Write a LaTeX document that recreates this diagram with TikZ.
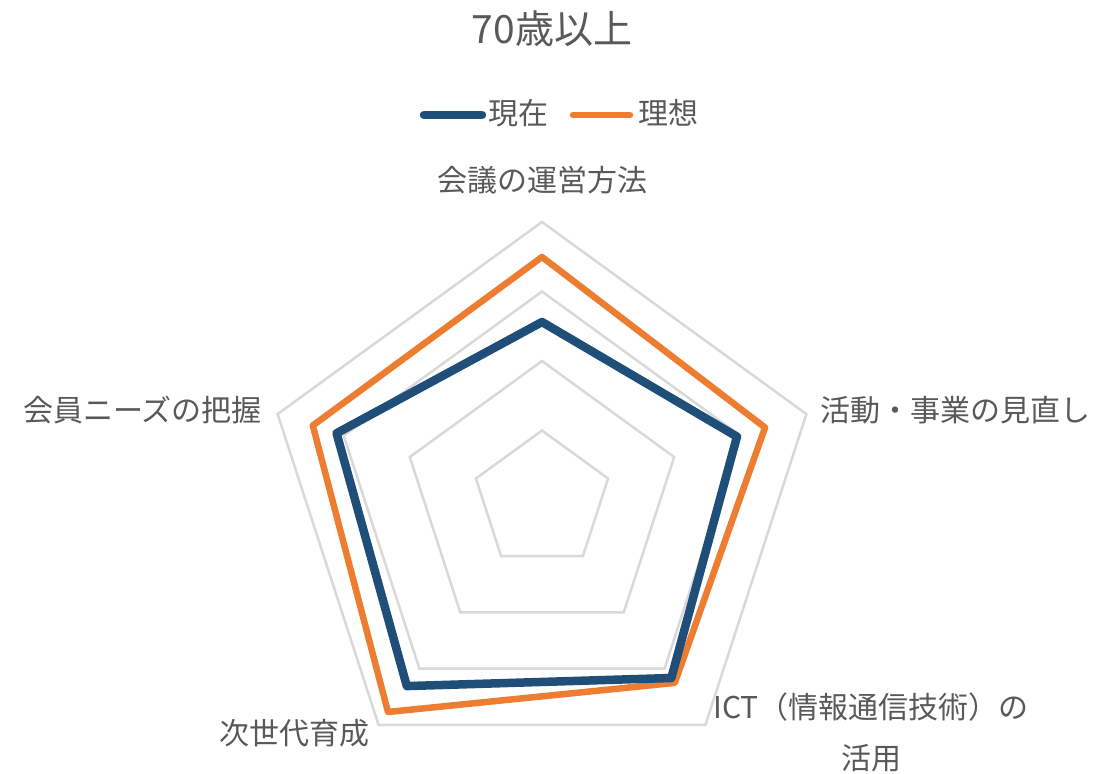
\documentclass[tikz,border=0pt]{standalone}
\usepackage{fontspec}
\setmainfont{Noto Sans CJK JP}
\definecolor{textgrau}{HTML}{595959}
\definecolor{gittergrau}{HTML}{D9D9D9}
\definecolor{istblau}{HTML}{1F4E79}
\definecolor{sollorange}{HTML}{ED7D31}
\tikzset{
	beschriftung/.style={text=textgrau, font=\fontsize{30}{51}\selectfont, inner sep=0pt},
	gitter/.style={draw=gittergrau, line width=2.5pt, line join=miter},
	ist/.style={draw=istblau, line width=8.5pt, line join=round},
	soll/.style={draw=sollorange, line width=6.5pt, line join=round}
}
\begin{document}
\begin{tikzpicture}[x=1pt, y=1pt]
	\useasboundingbox (0,0) rectangle (1099,-773);
	\coordinate (M) at (542,-500);

	% zeichne Titel und Legende
	\node[beschriftung, font=\fontsize{39}{44}\selectfont] (titel) at (552,-29) {70歳以上};
	\coordinate (istA) at (424,-115);
	\coordinate (istB) at (482,-115);
	\coordinate (sollA) at (573,-115);
	\coordinate (sollB) at (630,-115);
	\draw[ist, line cap=round] (istA) -- (istB);
	\draw[soll, line cap=round] (sollA) -- (sollB);
	\node[beschriftung, anchor=west] (legist) at (488,-113) {現在};
	\node[beschriftung, anchor=west] (legsoll) at (638,-113) {理想};

	% zeichne Gitter
	\begin{scope}[shift={(M)}]
		\foreach \r in {69.5,139,208.5,278}
			\draw[gitter] (90:\r) -- (18:\r) -- (-54:\r) -- (-126:\r) -- (162:\r) -- cycle;

		% zeichne Verlauf
		\draw[soll] (90:243) -- (18:234.5) -- (-54:226) -- (-126:262) -- (162:241) -- cycle;
		\draw[ist] (90:178) -- (18:205) -- (-54:220) -- (-126:230) -- (162:216) -- cycle;
	\end{scope}

	% zeichne Achsenbeschriftungen
	\node[beschriftung] (versammlung) at (542,-180) {会議の運営方法};
	\node[beschriftung] (aktivitaet) at (955,-410) {活動・事業の見直し};
	\node[beschriftung, align=center] (ict) at (871,-732) {ICT（情報通信技術）の\\活用};
	\node[beschriftung] (nachwuchs) at (294.5,-733) {次世代育成};
	\node[beschriftung] (mitglieder) at (142.5,-410) {会員ニーズの把握};
\end{tikzpicture}
\end{document}
